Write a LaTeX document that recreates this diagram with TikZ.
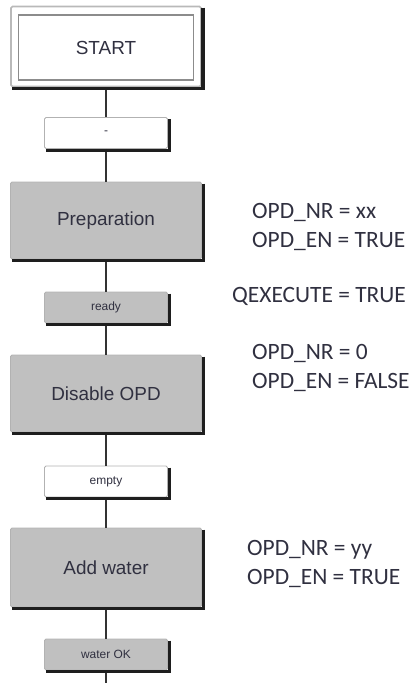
\documentclass[tikz,border=0pt]{standalone}
\usepackage{fontspec}
\setmainfont{Liberation Sans}
\newfontfamily\calib{Carlito}
\definecolor{boxgray}{HTML}{C0C0C0}
\definecolor{txt}{HTML}{303040}
\definecolor{shadowcol}{HTML}{1E1E1E}
\begin{document}
\begin{tikzpicture}[x=1bp,y=-1bp,
  stepbox/.style={draw=gray!60, line width=0.8bp, fill=boxgray, rounded corners=1.5bp,
    minimum width=191bp, minimum height=77bp, inner sep=0pt,
    font=\fontsize{19}{22}\selectfont, text=txt},
  transbox/.style={draw=gray!60, line width=0.8bp, rounded corners=1.5bp,
    minimum width=123bp, minimum height=31bp, inner sep=0pt,
    font=\fontsize{12}{14}\selectfont, text=txt},
  dropshadow/.style={line width=3.4bp, draw=shadowcol},
  link/.style={line width=1.2bp, draw=black!80},
  note/.style={font=\calib\fontsize{23.5}{29}\selectfont, text=txt, align=left,
    inner sep=0pt, anchor=north west}
]
\useasboundingbox (0,0) rectangle (417,683);

\coordinate (bottom) at (106,683);
\node[draw=gray!55, line width=1.6bp, fill=white, rounded corners=1.5bp,
  minimum width=190bp, minimum height=80bp] (startouter) at (106,46.5) {};
\node[draw=gray!90, line width=1.6bp, fill=white,
  minimum width=175bp, minimum height=65bp, inner sep=0pt,
  font=\fontsize{19}{22}\selectfont, text=txt] (start) at (106,47.5) {START};
\node[transbox, fill=white] (t0) at (106,133) {-};
\node[stepbox] (prep) at (106,220.5) {Preparation};
\node[transbox, fill=boxgray] (t1) at (106,307.5) {ready};
\node[stepbox] (dis) at (106,393.5) {Disable OPD};
\node[transbox, fill=white] (t2) at (106,481.5) {empty};
\node[stepbox, minimum height=79bp] (add) at (106,567.5) {Add water};
\node[transbox, fill=boxgray] (t3) at (106,654.5) {water OK};

\draw[link] (startouter.south) -- (t0.north);
\draw[link] (t0.south) -- (prep.north);
\draw[link] (prep.south) -- (t1.north);
\draw[link] (t1.south) -- (dis.north);
\draw[link] (dis.south) -- (t2.north);
\draw[link] (t2.south) -- (add.north);
\draw[link] (add.south) -- (t3.north);
\draw[link] (t3.south) -- (bottom);

% drop shadows on the right and bottom edges
\foreach \nm in {startouter,t0,prep,t1,dis,t2,add,t3}{
  \draw[dropshadow] ([xshift=1.3bp,yshift=-2bp]\nm.north east)
    -- ([xshift=1.3bp,yshift=-1.3bp]\nm.south east)
    -- ([xshift=2bp,yshift=-1.3bp]\nm.south west);
}

\node[note] (n1) at (252,203.5) {OPD\_NR = xx\\OPD\_EN = TRUE};
\node[note] (n2) at (232,287.5) {QEXECUTE = TRUE};
\node[note] (n3) at (252,344.5) {OPD\_NR = 0\\OPD\_EN = FALSE};
\node[note] (n4) at (247,540.5) {OPD\_NR = yy\\OPD\_EN = TRUE};
\end{tikzpicture}
\end{document}
